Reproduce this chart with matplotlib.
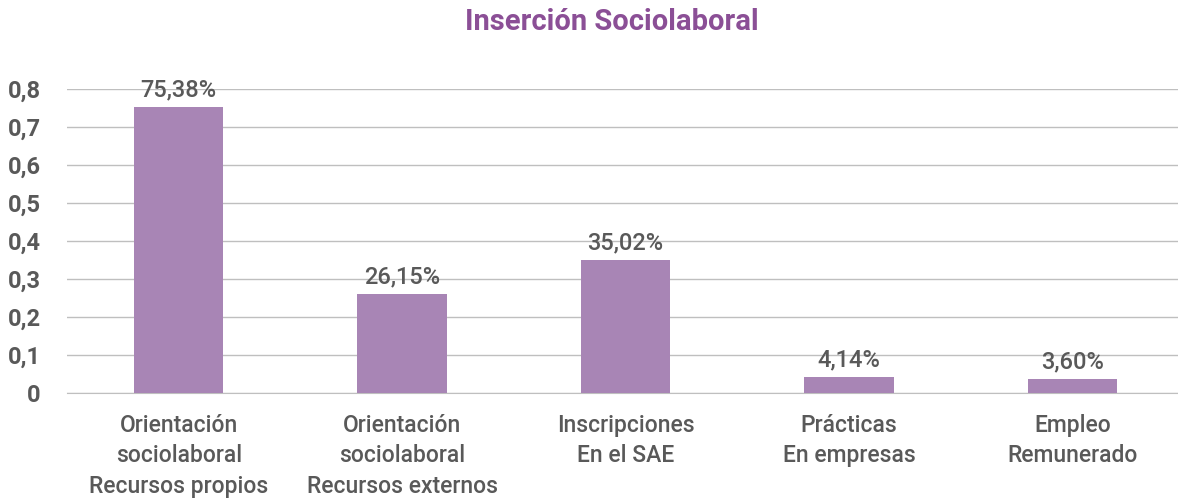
import matplotlib.pyplot as plt

categories = ["Orientación\nsociolaboral\nRecursos propios",
              "Orientación\nsociolaboral\nRecursos externos",
              "Inscripciones\nEn el SAE",
              "Prácticas\nEn empresas",
              "Empleo\nRemunerado"]
values = [0.7538, 0.2615, 0.3502, 0.0414, 0.0360]
bar_labels = ["75,38%", "26,15%", "35,02%", "4,14%", "3,60%"]
yticks = [0, 0.1, 0.2, 0.3, 0.4, 0.5, 0.6, 0.7, 0.8]
ytick_labels = ["0", "0,1", "0,2", "0,3", "0,4", "0,5", "0,6", "0,7", "0,8"]

plt.rcParams['font.family'] = ['Roboto', 'DejaVu Sans']

text_col = "#595959"
bar_col = "#A885B5"

fig = plt.figure(figsize=(11.78, 4.99), dpi=100)
ax = fig.add_axes([67/1178, 106/499, 1117/1178, 304/499])

x = range(len(values))
bars = ax.bar(x, values, width=0.4, color=bar_col, zorder=3)
for b, lab in zip(bars, bar_labels):
    ax.annotate(lab, (b.get_x() + b.get_width()/2, b.get_height()),
                xytext=(0, 4), textcoords="offset points",
                ha="center", va="bottom", fontsize=17, color=text_col,
                fontweight="medium")

ax.set_xlim(-0.5, 4.5)
ax.set_ylim(0, 0.8)
ax.set_yticks(yticks)
ax.set_yticklabels(ytick_labels, fontsize=17, color=text_col, fontweight="bold")
ax.set_xticks(list(x))
ax.set_xticklabels(categories, fontsize=16.5, color=text_col, linespacing=1.42,
                   fontweight="medium")
ax.tick_params(length=0, pad=15)
ax.tick_params(axis="y", pad=19)
ax.grid(axis="y", color="#BFBFBF", linewidth=1, zorder=0)
for s in ["left", "right", "top"]:
    ax.spines[s].set_visible(False)
ax.spines["bottom"].set_color("#BFBFBF")

fig.text(0.519, 0.955, "Inserción Sociolaboral", ha="center", va="center",
         fontsize=21, fontweight="bold", color="#8B4F96")

fig.savefig("out.png", dpi=100)
